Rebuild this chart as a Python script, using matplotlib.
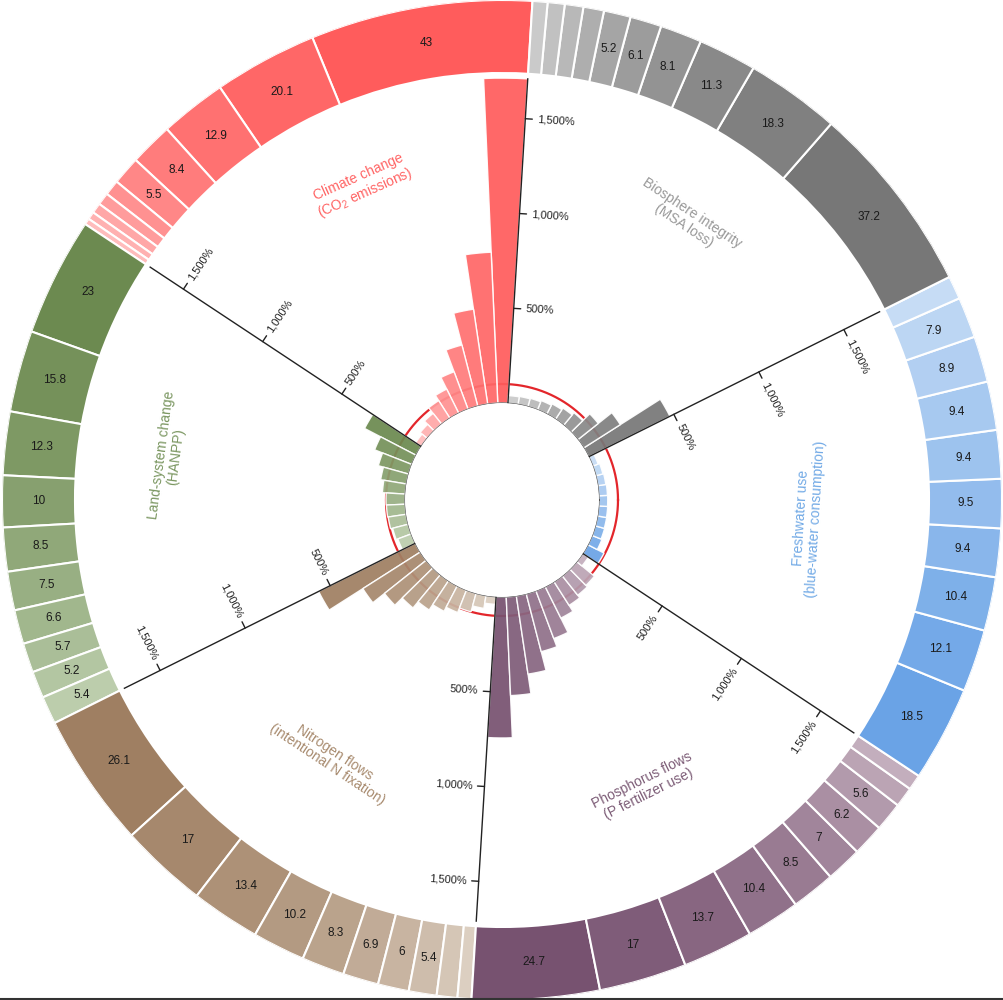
import numpy as np
import matplotlib.pyplot as plt
from matplotlib.colors import to_rgb
from matplotlib.lines import Line2D

plt.rcParams['font.family'] = ['Liberation Sans', 'DejaVu Sans']
plt.rcParams['mathtext.default'] = 'regular'

# ---- data (sectors counter-clockwise, starting at the climate/biosphere border)
names = ["Climate change", "Land-system change", "Nitrogen flows",
         "Phosphorus flows", "Freshwater use", "Biosphere integrity"]
subtitles = ["(CO$_2$ emissions)", "(HANPP)", "(intentional N fixation)",
             "(P fertilizer use)", "(blue-water consumption)", "(MSA loss)"]

# share of each decile in the outer ring (%)
climate_share = [43, 20.1, 12.9, 8.4, 5.5, 3.0, 2.4, 2.0, 1.5, 1.2]
land_share = [23, 15.8, 12.3, 10, 8.5, 7.5, 6.6, 5.7, 5.2, 5.4]
nitrogen_share = [26.1, 17, 13.4, 10.2, 8.3, 6.9, 6, 5.4, 4.0, 2.7]
phosphorus_share = [24.7, 17, 13.7, 10.4, 8.5, 7, 6.2, 5.6, 3.9, 3.0]
freshwater_share = [18.5, 12.1, 10.4, 9.4, 9.5, 9.4, 9.4, 8.9, 7.9, 4.5]
biosphere_share = [37.2, 18.3, 11.3, 8.1, 6.1, 5.2, 4.0, 3.6, 3.3, 2.9]

# per-decile use relative to the boundary (%), inner bars
climate_pct = [1710, 795, 505, 332, 210, 142, 110, 72, 48, 35]
land_pct = [305, 210, 165, 137, 120, 100, 98, 95, 84, 75]
nitrogen_pct = [568, 358, 280, 226, 184, 150, 126, 100, 68, 40]
phosphorus_pct = [742, 520, 416, 314, 268, 184, 147, 130, 120, 35]
freshwater_pct = [95, 55, 50, 48, 47, 46, 45, 42, 38, 30]
biosphere_pct = [477, 228, 137, 85, 70, 60, 52, 45, 42, 40]

axis_ticks = [500, 1000, 1500]

shares = [climate_share, land_share, nitrogen_share,
          phosphorus_share, freshwater_share, biosphere_share]
pcts = [climate_pct, land_pct, nitrogen_pct,
        phosphorus_pct, freshwater_pct, biosphere_pct]

# ---- styling
dark = ['#ff5c5c', '#6c8a50', '#9f7f62', '#775270', '#6aa3e6', '#777777']
light = ['#ffbcbc', '#bccdac', '#dccfc1', '#c3aebd', '#c6dcf5', '#cacaca']
label_col = ['#ff6464', '#7a9660', '#a88b6f', '#7d5d77', '#72aae6', '#999999']
label_dtheta = [-2.5, -4, 0, 0, 0, 0]
label_rpx = [344, 336, 310, 321, 307, 337]

START_DEG = 86.5
SPAN_DEG = 60.0
R0_PX = 97.0          # inner hole radius in pixels
PX_PER_PCT = 0.19     # radial pixels per percent
AX_R_PX = 500.0
RING_IN_PX = 427.0
AXIS_END = 1710


def px_to_r(px):
    return (px - R0_PX) / PX_PER_PCT


def shade(k, n):
    c0, c1 = np.array(to_rgb(dark[k])), np.array(to_rgb(light[k]))
    return [tuple(c0 + (c1 - c0) * i / (n - 1)) for i in range(n)]


def norm_rot(deg):
    rot = deg - 90
    flip = False
    while rot > 90:
        rot -= 180
        flip = not flip
    while rot <= -90:
        rot += 180
        flip = not flip
    return rot, flip


fig = plt.figure(figsize=(10.04, 10), dpi=100)
ax = fig.add_axes([0, 0, 1, 1], projection='polar')
ax.set_ylim(0, px_to_r(AX_R_PX))
ax.set_rorigin(px_to_r(0))
ax.set_axis_off()

full = np.linspace(0, 2 * np.pi, 721)
ax.plot(full, np.full_like(full, 100), color='#e3262b', lw=1.6, zorder=1)
ax.plot(full, np.zeros_like(full), color='#555555', lw=0.9, zorder=4)

ring_in = px_to_r(RING_IN_PX)
ring_out = px_to_r(AX_R_PX)
ring_mid = (ring_in + ring_out) / 2

for k in range(6):
    start = np.deg2rad(START_DEG + SPAN_DEG * k)
    span = np.deg2rad(SPAN_DEG)

    # inner bars
    vals = pcts[k]
    n = len(vals)
    cols = shade(k, n)
    th = start + np.arange(n) * span / n
    ax.bar(th, vals, width=span / n, bottom=0, align='edge', color=cols,
           edgecolor='white', linewidth=1, alpha=0.93, zorder=2)

    # outer ring
    sh = np.array(shares[k], dtype=float)
    w = sh / sh.sum() * span
    lefts = start + np.concatenate([[0], np.cumsum(w)[:-1]])
    cols = shade(k, len(sh))
    ax.bar(lefts, ring_out - ring_in, width=w, bottom=ring_in, align='edge',
           color=cols, edgecolor='white', linewidth=1.5, zorder=2)
    for left, wi, v in zip(lefts, w, sh):
        if v >= 5:
            ax.text(left + wi / 2, ring_mid, f"{v:g}", ha='center', va='center',
                    fontsize=8.5, color='#1a1a1a', zorder=6)

    # axis with ticks
    ax.plot([start, start], [0, AXIS_END], color='#222222', lw=1, zorder=5)
    perp = np.array([np.sin(start), -np.cos(start)])
    rot, flip = norm_rot(np.rad2deg(start))
    for t in axis_ticks:
        ax.annotate('', xy=(start, t), xytext=tuple(perp * 7),
                    textcoords='offset pixels',
                    arrowprops=dict(arrowstyle='-', color='#222222', lw=1,
                                    shrinkA=0, shrinkB=0), zorder=5)
        ax.annotate(f"{t:,}%", xy=(start, t), xytext=tuple(perp * 12),
                    textcoords='offset pixels', rotation=rot,
                    rotation_mode='anchor', ha='right' if flip else 'left',
                    va='center', fontsize=8, color='#222222', zorder=5)

    # sector name
    lab_deg = START_DEG + SPAN_DEG * k + SPAN_DEG / 2 + label_dtheta[k]
    lrot, _ = norm_rot(lab_deg)
    ax.text(np.deg2rad(lab_deg), px_to_r(label_rpx[k]),
            f"{names[k]}\n{subtitles[k]}", rotation=lrot,
            rotation_mode='anchor', ha='center', va='center',
            fontsize=10, color=label_col[k], linespacing=1.1, zorder=6)

fig.add_artist(Line2D([0, 1], [0.0015, 0.0015], color='#333333', lw=1.5))

fig.savefig('out.png', dpi=100, facecolor='white')
